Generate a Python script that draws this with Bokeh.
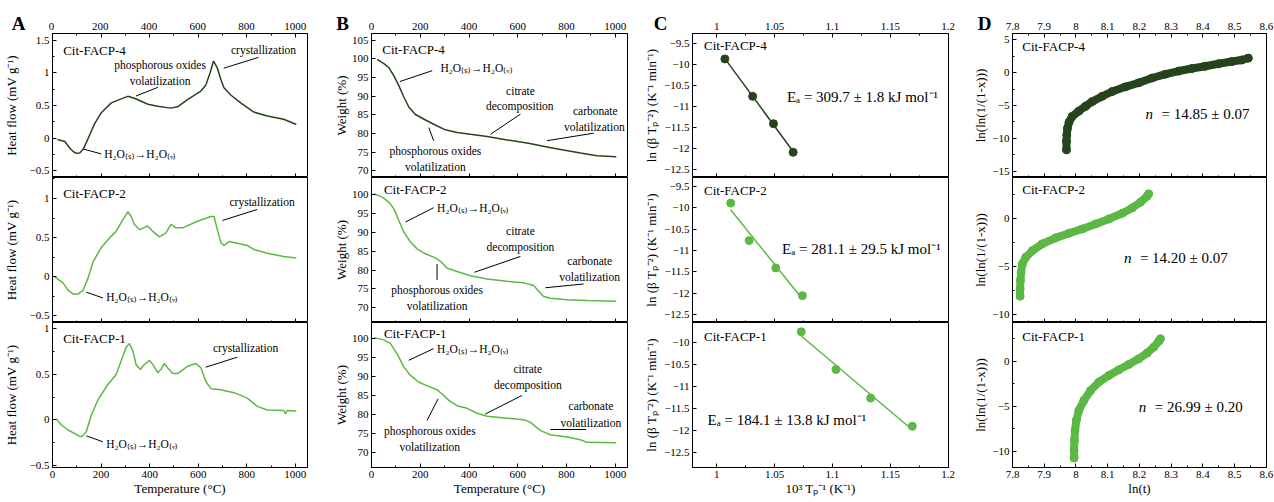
import numpy as np
from bokeh.plotting import figure
from bokeh.models import LinearAxis, Range1d, SingleIntervalTicker, CustomJSTickFormatter, Label
from bokeh.core.properties import value
from bokeh.layouts import row, column
from bokeh.embed import file_html
from bokeh.resources import INLINE

FONT = "Liberation Serif"
DARK = "#26441c"
LIGHT = "#5cb845"
INK = "black"

# ---------------- data ----------------
names = ["Cit-FACP-4", "Cit-FACP-2", "Cit-FACP-1"]

# A: DSC heat flow
a4_t = [20, 51, 71, 84, 98, 112, 126, 140, 153, 173, 201, 242, 275, 310, 337, 393, 433, 487, 515, 556, 611, 631, 649, 663, 679, 693, 706, 734, 775, 829, 884, 952, 1004]
a4_hf = [-0.02, -0.05, -0.15, -0.20, -0.23, -0.225, -0.17, -0.06, 0.05, 0.22, 0.39, 0.54, 0.59, 0.64, 0.61, 0.52, 0.49, 0.46, 0.48, 0.59, 0.72, 0.81, 1.00, 1.18, 1.07, 0.90, 0.77, 0.66, 0.54, 0.40, 0.34, 0.29, 0.21]
a2_t = [10, 44, 64, 85, 105, 126, 146, 167, 201, 242, 262, 290, 310, 324, 337, 358, 392, 413, 440, 467, 488, 508, 536, 597, 652, 665, 679, 693, 706, 727, 761, 802, 829, 884, 952, 1004]
a2_hf = [0.0, -0.08, -0.17, -0.22, -0.22, -0.17, -0.02, 0.19, 0.375, 0.52, 0.58, 0.73, 0.83, 0.77, 0.67, 0.60, 0.65, 0.58, 0.51, 0.56, 0.67, 0.625, 0.625, 0.71, 0.77, 0.77, 0.60, 0.44, 0.40, 0.45, 0.43, 0.40, 0.35, 0.30, 0.26, 0.24]
a1_t = [16, 37, 64, 105, 119, 139, 160, 187, 228, 262, 283, 303, 317, 331, 344, 362, 378, 399, 413, 433, 447, 460, 474, 495, 515, 556, 590, 611, 631, 652, 693, 747, 802, 843, 884, 952, 959, 966, 1004]
a1_hf = [0.01, -0.055, -0.11, -0.17, -0.185, -0.13, 0.055, 0.22, 0.39, 0.50, 0.65, 0.80, 0.84, 0.76, 0.61, 0.555, 0.61, 0.655, 0.61, 0.52, 0.555, 0.62, 0.574, 0.51, 0.51, 0.59, 0.62, 0.574, 0.426, 0.344, 0.333, 0.30, 0.24, 0.15, 0.11, 0.104, 0.067, 0.104, 0.10]

# B: TGA weight
b4_t = [23, 51, 71, 92, 112, 133, 153, 180, 214, 255, 303, 351, 406, 474, 556, 638, 747, 857, 925, 1004]
b4_w = [99.8, 98.7, 97.6, 95.4, 92.8, 89.7, 87.1, 85.1, 83.9, 82.5, 81.0, 80.3, 79.8, 79.2, 78.3, 77.5, 76.1, 74.8, 74.1, 73.8]
b2_t = [10, 44, 71, 92, 112, 133, 160, 187, 221, 262, 283, 310, 351, 406, 474, 556, 624, 665, 686, 706, 734, 802, 884, 1004]
b2_w = [100.2, 99.3, 98.0, 96.2, 93.1, 90.0, 87.4, 85.6, 84.3, 83.2, 82.3, 80.5, 79.6, 78.5, 77.6, 77.0, 76.6, 75.9, 74.4, 73.0, 72.5, 72.1, 71.9, 71.7]
b1_t = [10, 51, 78, 105, 133, 160, 194, 235, 269, 290, 317, 351, 392, 433, 474, 556, 624, 652, 693, 734, 802, 857, 884, 1004]
b1_w = [100.3, 99.7, 98.7, 96.0, 92.5, 90.3, 88.5, 87.4, 86.5, 85.4, 83.7, 82.3, 81.6, 80.3, 79.5, 79.0, 78.6, 77.9, 75.7, 74.6, 74.0, 73.3, 72.6, 72.5]

# C: Kissinger plots
c4_x = [1.007, 1.031, 1.049, 1.066]
c4_y = [-9.86, -10.75, -11.40, -12.08]
c2_x = [1.012, 1.028, 1.051, 1.074]
c2_y = [-9.89, -10.77, -11.41, -12.06]
c1_x = [1.073, 1.103, 1.133, 1.169]
c1_y = [-9.76, -10.62, -11.27, -11.91]
ea_text = ["Eₐ = 309.7 ± 1.8 kJ mol⁻¹", "Eₐ = 281.1 ± 29.5 kJ mol⁻¹", "Eₐ = 184.1 ± 13.8 kJ mol⁻¹"]

# D: Avrami plots
d4_x = [7.970, 7.970, 7.971, 7.973, 7.978, 7.988, 8.009, 8.030, 8.051, 8.083, 8.114, 8.156, 8.198, 8.240, 8.282, 8.324, 8.365, 8.407, 8.449, 8.491, 8.522, 8.543]
d4_y = [-11.72, -10.4, -9.43, -8.47, -7.52, -6.66, -5.85, -5.13, -4.41, -3.60, -2.88, -2.17, -1.55, -0.83, -0.26, 0.22, 0.60, 0.94, 1.32, 1.66, 1.89, 2.18]
d2_x = [7.824, 7.824, 7.825, 7.827, 7.831, 7.842, 7.863, 7.894, 7.936, 7.978, 8.020, 8.062, 8.104, 8.146, 8.177, 8.203, 8.224, 8.229]
d2_y = [-8.10, -7.34, -6.47, -5.61, -4.74, -4.05, -3.36, -2.66, -2.04, -1.56, -1.11, -0.59, -0.07, 0.52, 1.07, 1.66, 2.28, 2.53]
d1_x = [7.994, 7.994, 7.995, 7.997, 8.001, 8.009, 8.025, 8.046, 8.072, 8.104, 8.135, 8.166, 8.198, 8.224, 8.245, 8.261, 8.266]
d1_y = [-10.74, -9.89, -8.78, -7.68, -6.57, -5.46, -4.35, -3.25, -2.32, -1.59, -0.96, -0.37, 0.26, 0.89, 1.55, 2.21, 2.47]
n_text = ["= 14.85 ± 0.07", "= 14.20 ± 0.07", "= 26.99 ± 0.20"]

# top-axis tick labels
temp_ticks = [0, 200, 400, 600, 800, 1000]
temp_labels = ["0", "200", "400", "600", "800", "1000"]
inv_ticks = [1.0, 1.05, 1.1, 1.15, 1.2]
inv_labels = ["1", "1.05", "1.1", "1.15", "1.2"]
lnt_ticks = [7.8, 7.9, 8.0, 8.1, 8.2, 8.3, 8.4, 8.5, 8.6]
lnt_labels = ["7.8", "7.9", "8", "8.1", "8.2", "8.3", "8.4", "8.5", "8.6"]

colors = [DARK, LIGHT, LIGHT]
H2O = "H₂O₍ₛ₎→H₂O₍ᵥ₎"

# ---------------- layout ----------------
HDR = 33
BB = 33
FH = [144, 145, 145]
FMT = "var v = Math.round(tick*1000)/1000; return (v < 0 ? '\\u2212' : '') + Math.abs(v);"


def make_axis(interval, minor, labels=True, title=None, standoff=2):
    ax = LinearAxis(ticker=SingleIntervalTicker(interval=interval, num_minor_ticks=minor))
    ax.axis_line_color = INK
    ax.major_tick_line_color = INK
    ax.minor_tick_line_color = INK if minor else None
    ax.major_tick_in = 4
    ax.major_tick_out = 0
    ax.minor_tick_in = 2
    ax.minor_tick_out = 0
    ax.major_label_text_font = FONT
    ax.major_label_text_color = INK
    if labels:
        ax.formatter = CustomJSTickFormatter(code=FMT)
        ax.major_label_text_font_size = "11px"
        ax.major_label_standoff = 3
    else:
        ax.formatter = CustomJSTickFormatter(code="return '';")
        ax.major_label_text_font_size = "1px"
        ax.major_label_standoff = 0
    if title:
        ax.axis_label = title
        ax.axis_label_text_font = FONT
        ax.axis_label_text_font_size = "13px"
        ax.axis_label_text_font_style = "normal"
        ax.axis_label_text_color = INK
        ax.axis_label_standoff = standoff
    return ax


def bare(width, height, xr, yr, **borders):
    p = figure(width=width, height=height, x_range=xr, y_range=yr,
               x_axis_location=None, y_axis_location=None,
               toolbar_location=None, tools="", output_backend="svg", **borders)
    p.background_fill_color = "white"
    p.border_fill_color = "white"
    p.xgrid.visible = False
    p.ygrid.visible = False
    return p


def header(letter, letter_dx, xr, bl, fw, br, ticks, labels):
    # header strip above a column: panel letter + top-axis tick labels,
    # placed on the same x scale as the panels below
    s = (xr[1] - xr[0]) / fw
    h = bare(bl + fw + br, HDR, Range1d(xr[0] - bl * s, xr[1] + br * s), Range1d(0, HDR),
             min_border=0, min_border_left=0, min_border_right=0,
             min_border_top=0, min_border_bottom=0)
    h.outline_line_color = None
    h.text(x=ticks, y=[HDR - 25.5] * len(ticks), text=labels, text_font=value(FONT),
           text_font_size=value("11px"), text_align="center", text_baseline="middle",
           text_color=INK)
    h.add_layout(Label(x=xr[0] + letter_dx * s, y=HDR - 23, text=letter, text_font=FONT,
                       text_font_size="19px", text_font_style="bold", text_align="center",
                       text_baseline="middle", text_color=INK))
    return row(h)


def panel(pos, xr, yr, bl, fw, br, xint, xminor, yint, yminor, ytitle, ystand, xtitle):
    bb = BB if pos == 2 else 0
    p = bare(bl + fw + br, FH[pos] + bb, Range1d(*xr), Range1d(*yr),
             min_border_left=bl, min_border_right=br, min_border_top=0, min_border_bottom=bb)
    p.outline_line_color = INK
    p.outline_line_width = 1
    p.add_layout(make_axis(yint, yminor, True, ytitle, ystand), "left")
    if pos == 0:
        p.add_layout(make_axis(xint, xminor, False), "above")
    p.add_layout(make_axis(xint, xminor, pos == 2, xtitle if pos == 2 else None, 0), "below")
    return p


def lab(p, x, y, text, size="11.5px", align="left", style="normal", xoff=0):
    p.add_layout(Label(x=x, y=y, text=text, text_font=FONT, text_font_size=size,
                       text_align=align, text_baseline="middle", text_font_style=style,
                       text_color=INK, x_offset=xoff))


def seg(p, x0, y0, x1, y1):
    p.segment(x0=x0, y0=y0, x1=x1, y1=y1, line_color=INK, line_width=1)


# ---------- column A ----------
A_X = (0, 1050)
A_Y = [(-0.6, 1.6), (-0.583, 1.268), (-0.522, 1.071)]
a_t = [a4_t, a2_t, a1_t]
a_hf = [a4_hf, a2_hf, a1_hf]
pA = []
for i in range(3):
    p = panel(i, A_X, A_Y[i], 51, 256, 13, 200, 2, 0.5, 2, "Heat flow (mV g⁻¹)", 8, "Temperature (°C)")
    p.line(a_t[i], a_hf[i], line_color=colors[i], line_width=1.5)
    pA.append(p)
lab(pA[0], 44, 1.34, names[0], "13px")
lab(pA[0], 443, 1.117, "phosphorous oxides", align="center")
lab(pA[0], 443, 0.88, "volatilization", align="center")
seg(pA[0], [344], [0.645], [434], [0.778])
lab(pA[0], 869, 1.35, "crystallization", align="center")
seg(pA[0], [705], [1.07], [848], [1.235])
lab(pA[0], 213, -0.24, H2O)
seg(pA[0], [127], [-0.165], [201], [-0.24])

lab(pA[1], 44, 1.06, names[1], "13px")
lab(pA[1], 863, 0.95, "crystallization", align="center")
seg(pA[1], [700], [0.72], [843], [0.86])
lab(pA[1], 221, -0.26, H2O)
seg(pA[1], [139], [-0.196], [208], [-0.27])

lab(pA[2], 44, 0.89, names[2], "13px")
lab(pA[2], 795, 0.79, "crystallization", align="center")
seg(pA[2], [631], [0.58], [761], [0.69])
lab(pA[2], 221, -0.26, H2O)
seg(pA[2], [139], [-0.174], [208], [-0.24])
hA = header("A", -33, A_X, 51, 256, 13, temp_ticks, temp_labels)

# ---------- column B ----------
B_X = (0, 1050)
B_Y = [(68.26, 106.74), (66.1, 104.5), (65.95, 104.3)]
b_t = [b4_t, b2_t, b1_t]
b_w = [b4_w, b2_w, b1_w]
pB = []
for i in range(3):
    p = panel(i, B_X, B_Y[i], 51, 256, 13, 200, 2, 5, 0, "Weight (%)", 0, "Temperature (°C)")
    p.line(b_t[i], b_w[i], line_color=colors[i], line_width=1.5)
    pB.append(p)

lab(pB[0], 44, 102.5, names[0], "13px")
lab(pB[0], 283, 97.6, H2O)
seg(pB[0], [116], [93.9], [249], [96.8])
lab(pB[0], 611, 91.5, "citrate", align="center")
lab(pB[0], 608, 87.4, "decomposition", align="center")
seg(pB[0], [488], [79.8], [611], [85.2])
lab(pB[0], 918, 86.0, "carbonate", align="center")
lab(pB[0], 914, 81.7, "volatilization", align="center")
seg(pB[0], [720], [78.1], [911], [80.1])
lab(pB[0], 262, 75.4, "phosphorous oxides", align="center")
lab(pB[0], 262, 71.1, "volatilization", align="center")
seg(pB[0], [255], [78.1], [235], [81.6])

lab(pB[1], 51, 101.2, names[1], "13px")
lab(pB[1], 269, 96.5, H2O)
seg(pB[1], [139], [92.7], [255], [96.5])
lab(pB[1], 611, 90.2, "citrate", align="center")
lab(pB[1], 611, 86.1, "decomposition", align="center")
seg(pB[1], [422], [79.4], [611], [83.6])
lab(pB[1], 895, 82.5, "carbonate", align="center")
lab(pB[1], 895, 78.1, "volatilization", align="center")
seg(pB[1], [713], [75.3], [870], [76.3])
lab(pB[1], 269, 74.8, "phosphorous oxides", align="center")
lab(pB[1], 269, 70.6, "volatilization", align="center")
seg(pB[1], [269], [81.6], [269], [77.4])

lab(pB[2], 51, 101.4, names[2], "13px")
lab(pB[2], 269, 97.4, H2O)
seg(pB[2], [153], [94.3], [255], [97.4])
lab(pB[2], 641, 92.1, "citrate", align="center")
lab(pB[2], 641, 87.9, "decomposition", align="center")
seg(pB[2], [467], [80.1], [617], [85.0])
lab(pB[2], 900, 82.1, "carbonate", align="center")
lab(pB[2], 900, 77.8, "volatilization", align="center")
seg(pB[2], [734], [76.0], [880], [76.0])
lab(pB[2], 239, 75.7, "phosphorous oxides", align="center")
lab(pB[2], 239, 71.5, "volatilization", align="center")
seg(pB[2], [228], [78.4], [273], [84.1])
hB = header("B", -29, B_X, 51, 256, 13, temp_ticks, temp_labels)

# ---------- column C ----------
C_X = (0.979, 1.2003)
C_Y = [(-12.68, -9.255), (-12.69, -9.29), (-12.85, -9.55)]
c_x = [c4_x, c2_x, c1_x]
c_y = [c4_y, c2_y, c1_y]
ea_pos = [(1.0606, -10.77), (1.0564, -10.96), (0.992, -11.78)]
name_y_c = [-9.54, -9.59, -9.87]
pC = []
for i in range(3):
    p = panel(i, C_X, C_Y[i], 52, 256, 12, 0.05, 2, 0.5, 0,
              "ln (β Tₚ⁻²) (K⁻¹ min⁻¹)", 2, "10³ Tₚ⁻¹ (K⁻¹)")
    k, b = np.polyfit(c_x[i], c_y[i], 1)
    xs = [min(c_x[i]), max(c_x[i])]
    p.line(xs, [k * x + b for x in xs], line_color=colors[i], line_width=1.5)
    p.scatter(c_x[i], c_y[i], size=8, fill_color=colors[i], line_color=colors[i])
    lab(p, 0.989, name_y_c[i], names[i], "13px")
    lab(p, ea_pos[i][0], ea_pos[i][1], ea_text[i], "15px")
    pC.append(p)
hC = header("C", -32, C_X, 52, 256, 12, inv_ticks, inv_labels)

# ---------- column D ----------
D_X = (7.8, 8.6003)
D_Y = [(-15.91, 5.91), (-10.83, 4.23), (-11.79, 4.28)]
d_x = [d4_x, d2_x, d1_x]
d_y = [d4_y, d2_y, d1_y]
name_y_d = [3.95, 2.94, 2.73]
n_pos = [(8.219, -6.32), (8.151, -4.12), (8.198, -5.09)]
pD = []
for i in range(3):
    p = panel(i, D_X, D_Y[i], 52, 254, 8, 0.1, 2, 5, 2, "ln(ln(1/(1-x)))", 1, "ln(t)")
    p.line(d_x[i], d_y[i], line_color=colors[i], line_width=8, line_join="round", line_cap="round")
    p.scatter(d_x[i], d_y[i], size=8, fill_color=colors[i], line_color=colors[i])
    lab(p, 7.831, name_y_d[i], names[i], "13px")
    lab(p, n_pos[i][0], n_pos[i][1], "n", "15px", style="italic")
    lab(p, n_pos[i][0], n_pos[i][1], n_text[i], "15px", xoff=16)
    pD.append(p)
hD = header("D", -28, D_X, 52, 254, 8, lnt_ticks, lnt_labels)

layout = row(column(hA, *pA), column(hB, *pB), column(hC, *pC), column(hD, *pD))
open("out.html", "w").write(file_html(layout, INLINE))
